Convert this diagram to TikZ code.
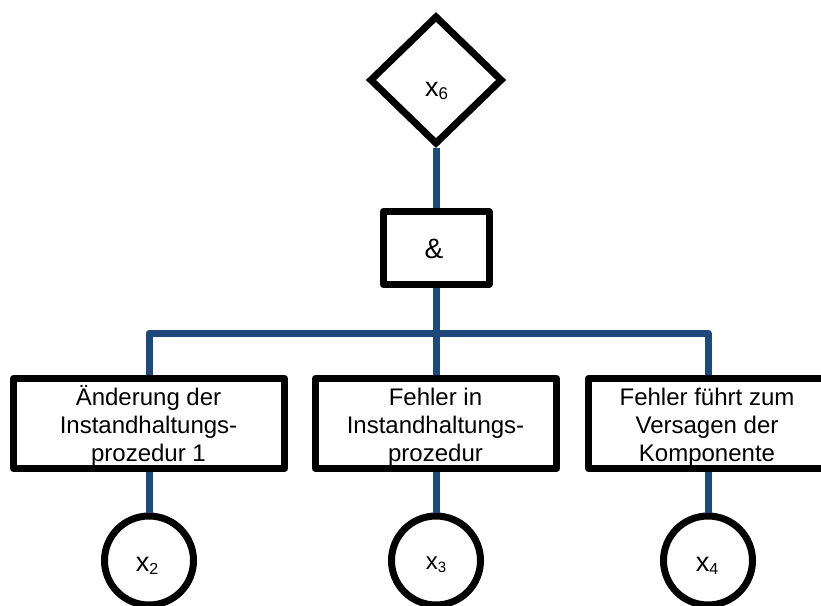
\documentclass[tikz,border=0pt]{standalone}
\usepackage{fontspec}
\setmainfont{Liberation Sans}
\usetikzlibrary{shapes.geometric}
\definecolor{linkblue}{HTML}{1F497D}
% lowered, smaller index digit: #1 = drop, #2 = size, #3 = digit
\newcommand{\lowsub}[3]{\raisebox{-#1}{\fontsize{#2}{#2}\selectfont #3}}
\begin{document}
\begin{tikzpicture}[x=1pt,y=-1pt,
  frame/.style={draw=black, line width=7pt, line join=round, fill=white, inner sep=0pt},
  link/.style={draw=linkblue, line width=7pt, line join=round},
  boxtext/.style={font=\fontsize{24}{28}\selectfont, align=center, inner sep=0pt},
  symtext/.style={font=\fontsize{27}{30}\selectfont, inner sep=0pt, anchor=base},
  ]
\useasboundingbox (0,0) rectangle (821,605);

% top event and AND gate
\node[frame, diamond, line join=miter, minimum width=133pt, minimum height=129pt] (top) at (436,80) {};
\node[frame, rectangle, minimum width=106pt, minimum height=73pt] (and) at (436,248) {};

% intermediate events
\node[frame, rectangle, minimum width=271pt, minimum height=90pt] (b1) at (149,423.5) {};
\node[frame, rectangle, minimum width=241pt, minimum height=90pt] (b2) at (436,423.5) {};
\node[frame, rectangle, minimum width=239pt, minimum height=90pt] (b3) at (708,423.5) {};

% basic events
\node[frame, circle, minimum size=89pt] (c1) at (149,560.5) {};
\node[frame, circle, minimum size=89pt] (c2) at (436,560.5) {};
\node[frame, circle, minimum size=89pt] (c3) at (708,560.5) {};

% connectors
\coordinate (bus) at (436,333);
\draw[link] (top.south) -- (and.north);
\draw[link] (and.south) -- (b2.north);
\draw[link] (b1.north) |- (bus) -| (b3.north);
\draw[link] (b1.south) -- (c1.north);
\draw[link] (b2.south) -- (c2.north);
\draw[link] (b3.south) -- (c3.north);

% texts
\node[symtext] (l6) at (436.5,96.5) {x\lowsub{3pt}{17}{6}};
\node[symtext, font=\fontsize{28}{30}\selectfont] (land) at (434,258) {\&};
\node[boxtext] (t1) at (148.5,428) {\strut Änderung der\\\strut Instandhaltungs-\\\strut prozedur 1};
\node[boxtext] (t2) at (435.5,428) {\strut Fehler in\\\strut Instandhaltungs-\\\strut prozedur};
\node[boxtext] (t3) at (707,428) {\strut Fehler führt zum\\\strut Versagen der\\\strut Komponente};
\node[symtext] (l2) at (147,571.5) {x\lowsub{3pt}{16}{2}};
\node[symtext, font=\fontsize{24}{28}\selectfont] (l3) at (436,569.5) {x\lowsub{3pt}{15}{3}};
\node[symtext] (l4) at (707,571.5) {x\lowsub{3pt}{16}{4}};
\end{tikzpicture}
\end{document}
